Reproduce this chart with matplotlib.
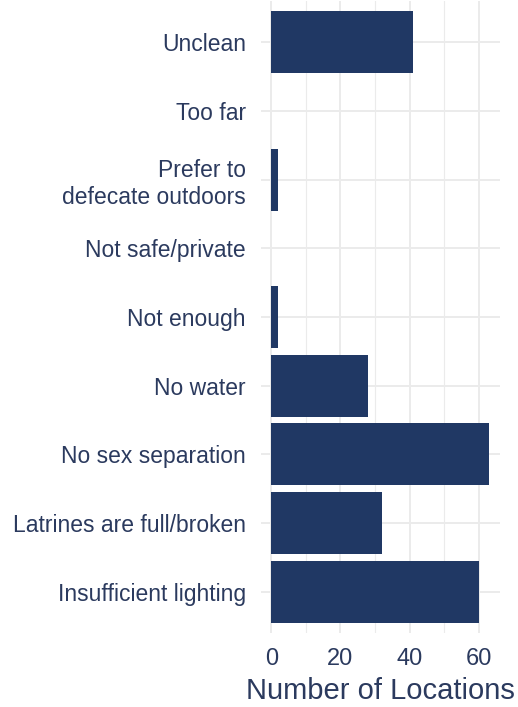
import matplotlib as mpl
from matplotlib import pyplot as plt
from matplotlib.ticker import MultipleLocator
import numpy as np

# categories listed top to bottom, as in the picture
categories = ['Unclean', 'Too far', 'Prefer to\ndefecate outdoors',
              'Not safe/private', 'Not enough', 'No water',
              'No sex separation', 'Latrines are full/broken',
              'Insufficient lighting']
counts = [41, 0, 2, 0, 2, 28, 63, 32, 60]
xticks = [0, 20, 40, 60]

bar_color = '#203864'
text_color = '#2b3a5e'
grid_color = '#ebebeb'

plt.rcParams['font.family'] = ['Liberation Sans', 'DejaVu Sans']

fig = plt.figure(figsize=(5.18, 7.07), dpi=100)
ax = fig.add_axes([0.503, 0.1047, 0.462, 0.8939])

ypos = np.arange(len(categories))[::-1]
ax.barh(ypos, counts, height=0.9, color=bar_color, zorder=3)

xmax = max(counts)
ax.set_xlim(-0.05 * xmax, xmax * 1.05)
ax.set_ylim(-0.6, len(categories) - 0.4)

ax.set_yticks(ypos)
ax.set_yticklabels(categories, fontsize=16.5, color=text_color, ha='right',
                   multialignment='right')
ax.set_xticks(xticks)
ax.set_xticklabels([str(t) for t in xticks], fontsize=17, color=text_color)
ax.xaxis.set_minor_locator(MultipleLocator(10))

ax.tick_params(axis='y', length=0, pad=10.5)
ax.tick_params(axis='x', length=0, pad=11)
ax.tick_params(which='minor', length=0)

ax.grid(True, which='major', color=grid_color, linewidth=1.4, zorder=0)
ax.grid(True, which='minor', axis='x', color=grid_color, linewidth=0.8, zorder=0)
for s in ax.spines.values():
    s.set_visible(False)

ax.set_xlabel('Number of Locations', fontsize=21, color=text_color, labelpad=5)

fig.savefig('out.png', dpi=100)
